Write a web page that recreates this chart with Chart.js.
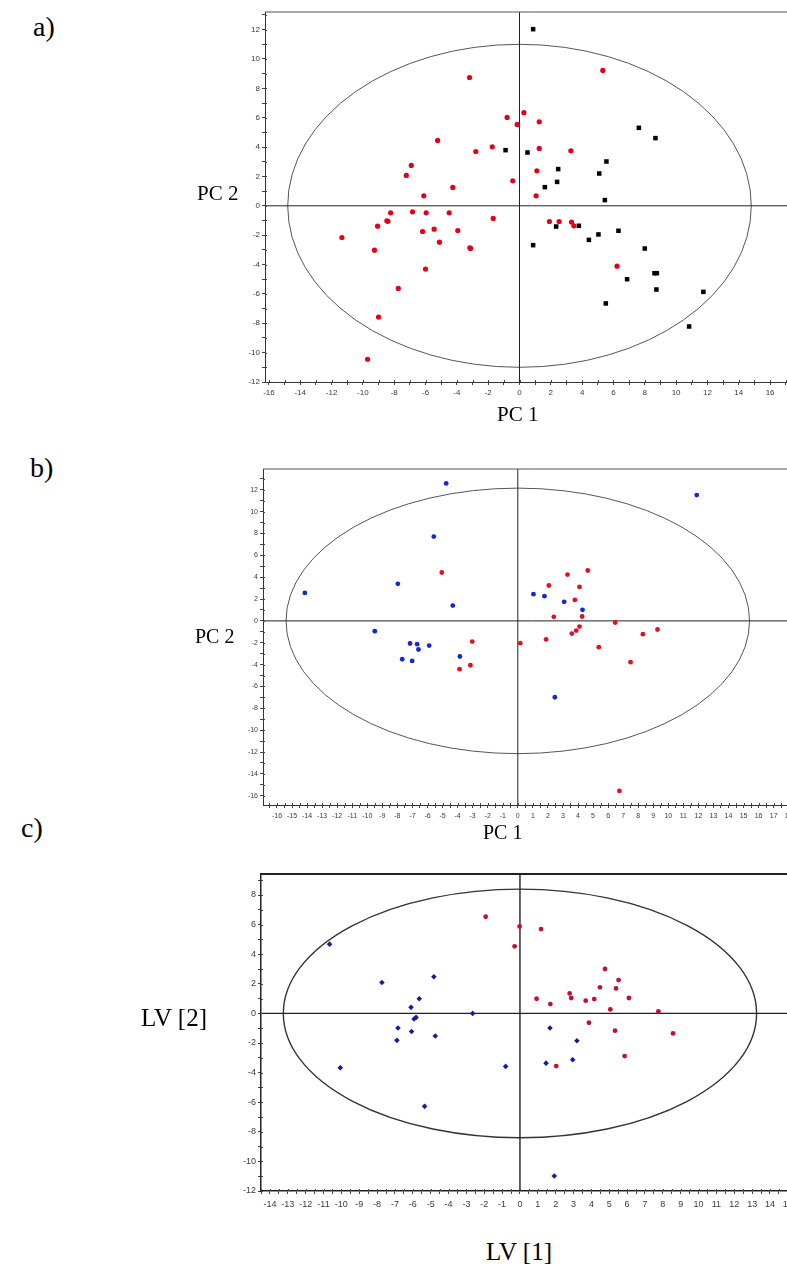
<!DOCTYPE html>
<html>
<head>
<meta charset="utf-8">
<script src="https://cdn.jsdelivr.net/npm/chart.js@4"></script>
<style>
  html, body { margin: 0; padding: 0; width: 787px; height: 1265px; overflow: hidden; background: #fff; }
  canvas { position: absolute; }
  .lbl { position: absolute; font-family: "Liberation Serif", "Times New Roman", serif; line-height: 1; white-space: nowrap; color: #000; }
</style>
</head>
<body>
<canvas id="pa"></canvas>
<canvas id="pb"></canvas>
<canvas id="pc"></canvas>

<div class="lbl" style="left:33px;top:13px;font-size:28px">a)</div>
<div class="lbl" style="left:197px;top:183px;font-size:21px">PC 2</div>
<div class="lbl" style="left:497px;top:404px;font-size:21px">PC 1</div>

<div class="lbl" style="left:30px;top:454px;font-size:28px">b)</div>
<div class="lbl" style="left:195px;top:626px;font-size:20px">PC 2</div>
<div class="lbl" style="left:483px;top:822px;font-size:20px">PC 1</div>

<div class="lbl" style="left:21px;top:814px;font-size:28px">c)</div>
<div class="lbl" style="left:141px;top:1005px;font-size:25px">LV [2]</div>
<div class="lbl" style="left:486px;top:1239px;font-size:25px">LV [1]</div>

<script>
// ---- a) PCA scores, PC1 vs PC2 ----
const aRedX = [5.32, -3.19, 0.28, -0.79, -0.15, 1.26, -5.23, -1.74, -2.79, 1.26, 3.28, -6.91, -7.23, 1.11,
  -0.43, -4.26, -6.11, 1.06, -8.23, -6.83, -5.96, -4.49, -1.68, -9.06, -8.47, -8.40, -11.34, -6.19, -5.45,
  -3.94, -5.11, -9.26, -3.17, -3.12, -6.00, -7.74, -9.00, -9.70, 1.91, 2.53, 3.32, 3.47, 6.23];
const aRedY = [9.22, 8.74, 6.34, 6.02, 5.54, 5.72, 4.45, 4.02, 3.70, 3.91, 3.75, 2.75, 2.07, 2.38,
  1.70, 1.25, 0.68, 0.68, -0.48, -0.41, -0.48, -0.48, -0.86, -1.39, -1.02, -1.06, -2.16, -1.75, -1.59,
  -1.68, -2.48, -3.02, -2.86, -2.90, -4.31, -5.63, -7.58, -10.45, -1.07, -1.07, -1.11, -1.36, -4.11];
const aBlackX = [0.87, 7.62, 8.68, -0.89, 0.51, 2.47, 5.55, 5.09, 2.40, 1.62, 5.45, 3.79, 2.34, 4.43,
  5.04, 6.32, 0.87, 8.00, 8.62, 8.77, 6.87, 8.74, 11.74, 5.51, 10.83];
const aBlackY = [12.03, 5.31, 4.61, 3.79, 3.63, 2.50, 3.02, 2.20, 1.63, 1.27, 0.39, -1.36, -1.41, -2.32,
  -1.95, -1.70, -2.68, -2.91, -4.59, -4.59, -5.00, -5.70, -5.86, -6.65, -8.22];
const aEllipse = [14.8, 11.0];   // semi-axes of the confidence ellipse (PC1, PC2)

// ---- b) PCA scores, PC1 vs PC2 ----
const bBlueX = [-4.76, 11.89, -5.58, -14.15, -7.97, -4.32, 1.04, 1.77, 3.08, 4.30, -9.50, -7.16, -6.69,
  -6.60, -5.89, -7.68, -7.02, -3.85, 2.46];
const bBlueY = [12.58, 11.51, 7.72, 2.56, 3.39, 1.40, 2.44, 2.26, 1.74, 1.01, -0.95, -2.07, -2.13,
  -2.62, -2.26, -3.51, -3.66, -3.26, -6.99];
const bRedX = [-5.05, 2.06, 3.30, 4.65, 4.10, 3.79, 2.39, 4.27, 4.10, 3.88, 3.59, 6.47, 8.31, 9.28,
  -3.03, -3.87, -3.15, 0.16, 1.88, 5.38, 7.49, 6.75];
const bRedY = [4.43, 3.24, 4.24, 4.61, 3.11, 1.92, 0.37, 0.40, -0.52, -0.89, -1.16, -0.15, -1.22, -0.79,
  -1.89, -4.42, -4.06, -2.04, -1.70, -2.41, -3.78, -15.56];
const bEllipse = [15.4, 12.15];

// ---- c) PLS-DA scores, LV1 vs LV2 ----
const cRedX = [-1.92, -0.02, 1.18, -0.30, 4.76, 5.52, 4.48, 5.38, 2.78, 2.87, 6.10, 0.93, 4.16, 3.68,
  1.70, 5.06, 7.75, 3.86, 5.32, 8.57, 5.86, 2.03];
const cRedY = [6.53, 5.88, 5.70, 4.53, 3.00, 2.25, 1.76, 1.69, 1.35, 1.04, 1.04, 0.99, 0.97, 0.86,
  0.63, 0.27, 0.14, -0.63, -1.17, -1.35, -2.88, -3.56];
const cBlueX = [-10.66, -7.73, -4.82, -5.64, -6.10, -5.82, -5.93, -2.65, -6.83, -6.07, -4.74, -6.89,
  1.68, 3.19, -10.06, -0.80, -5.34, 1.46, 2.95, 1.92];
const cBlueY = [4.68, 2.09, 2.48, 0.99, 0.41, -0.27, -0.38, 0.00, -0.99, -1.22, -1.53, -1.82,
  -0.99, -1.85, -3.67, -3.58, -6.28, -3.36, -3.13, -10.99];
const cEllipse = [13.25, 8.4];

const zip = (xs, ys) => xs.map((x, i) => ({ x, y: ys[i] }));

// Confidence ellipse, zero lines, top frame line and the inner half of each tick mark
const scoreFrame = {
  id: 'scoreFrame',
  beforeDatasetsDraw(chart, args, opts) {
    const { ctx, chartArea: ca, scales: { x, y } } = chart;
    const cx = x.getPixelForValue(0), cy = y.getPixelForValue(0);
    const rx = x.getPixelForValue(opts.ellipse[0]) - cx;
    const ry = cy - y.getPixelForValue(opts.ellipse[1]);
    ctx.save();
    ctx.beginPath();
    ctx.ellipse(cx, cy, rx, ry, 0, 0, Math.PI * 2);
    ctx.strokeStyle = opts.ellipseColor;
    ctx.lineWidth = opts.ellipseWidth;
    ctx.stroke();

    ctx.beginPath();
    ctx.moveTo(cx, ca.top); ctx.lineTo(cx, ca.bottom);
    ctx.moveTo(ca.left, cy); ctx.lineTo(ca.right, cy);
    ctx.strokeStyle = opts.crossColor;
    ctx.lineWidth = opts.crossWidth;
    ctx.stroke();

    ctx.beginPath();
    ctx.moveTo(ca.left, ca.top); ctx.lineTo(ca.right, ca.top);
    ctx.strokeStyle = opts.frameColor;
    ctx.lineWidth = opts.frameWidth;
    ctx.stroke();

    ctx.beginPath();
    x.ticks.forEach(t => {
      const px = Math.round(x.getPixelForValue(t.value)) + 0.5;
      ctx.moveTo(px, ca.bottom); ctx.lineTo(px, ca.bottom - 2);
    });
    y.ticks.forEach(t => {
      const py = Math.round(y.getPixelForValue(t.value)) + 0.5;
      ctx.moveTo(ca.left, py); ctx.lineTo(ca.left + 2, py);
    });
    ctx.strokeStyle = '#444';
    ctx.lineWidth = 1;
    ctx.stroke();
    ctx.restore();
  }
};

function everyLabel(n) {
  return (v) => {
    const r = v / n;
    return Math.abs(r - Math.round(r)) < 1e-6 ? String(Math.round(v)) : '';
  };
}

function axis(o, isX) {
  return {
    type: 'linear',
    position: isX ? 'bottom' : 'left',
    min: o.min, max: o.max,
    border: { display: true, color: o.lineColor, width: o.lineWidth },
    grid: { display: true, drawOnChartArea: false, drawTicks: true, tickLength: 3, tickColor: '#444', lineWidth: 1 },
    ticks: {
      stepSize: o.step, maxTicksLimit: 200, autoSkip: false, maxRotation: 0, includeBounds: false,
      padding: o.pad, color: '#3a3a3a',
      font: { family: '"Liberation Sans", Arial, sans-serif', size: o.font },
      callback: everyLabel(o.every)
    },
    afterFit(s) {
      if (isX) { s.height = o.size; s.paddingLeft = 0; s.paddingRight = 0; }
      else { s.width = o.size; s.paddingTop = 0; s.paddingBottom = 0; }
    }
  };
}

function panel(id, g, datasets, frame) {
  const cv = document.getElementById(id);
  cv.width = g.w; cv.height = g.h;
  cv.style.left = g.left + 'px'; cv.style.top = g.top + 'px';
  cv.style.width = g.w + 'px'; cv.style.height = g.h + 'px';
  new Chart(cv, {
    type: 'scatter',
    data: { datasets },
    options: {
      responsive: false, animation: false, events: [],
      layout: { autoPadding: false, padding: { top: g.padTop, left: 0, right: 0, bottom: 0 } },
      plugins: { legend: { display: false }, tooltip: { enabled: false }, scoreFrame: frame },
      scales: { x: axis(g.x, true), y: axis(g.y, false) }
    },
    plugins: [scoreFrame]
  });
}

function pts(data, color, style, r) {
  return { data, pointStyle: style, pointRadius: r, backgroundColor: color, borderColor: color, borderWidth: 0, clip: false };
}

panel('pa',
  { left: 200, top: 0, w: 600, h: 412, padTop: 12,
    x: { min: -16.25, max: 17.91, step: 1, every: 2, pad: 3, font: 8, size: 30, lineColor: '#333', lineWidth: 1 },
    y: { min: -12, max: 13.2, step: 1, every: 2, pad: 2, font: 8, size: 65, lineColor: '#333', lineWidth: 1 } },
  [pts(zip(aRedX, aRedY), '#e3001b', 'circle', 2.6),
   pts(zip(aBlackX, aBlackY), '#000000', 'rect', 3.2)],
  { ellipse: aEllipse, ellipseColor: '#555', ellipseWidth: 1, crossColor: '#222', crossWidth: 1, frameColor: '#555', frameWidth: 1 });

panel('pb',
  { left: 200, top: 460, w: 600, h: 375, padTop: 9,
    x: { min: -16.93, max: 18.75, step: 0.5, every: 1, pad: 4, font: 7, size: 30, lineColor: '#333', lineWidth: 1 },
    y: { min: -16.85, max: 13.9, step: 1, every: 2, pad: 2, font: 7, size: 63, lineColor: '#333', lineWidth: 1 } },
  [pts(zip(bBlueX, bBlueY), '#1428d2', 'circle', 2.4),
   pts(zip(bRedX, bRedY), '#e01020', 'circle', 2.4)],
  { ellipse: bEllipse, ellipseColor: '#555', ellipseWidth: 1, crossColor: '#222', crossWidth: 1, frameColor: '#555', frameWidth: 1 });

panel('pc',
  { left: 200, top: 865, w: 600, h: 356, padTop: 9,
    x: { min: -14.5, max: 15.68, step: 0.5, every: 1, pad: 5, font: 9, size: 30, lineColor: '#222', lineWidth: 1.5 },
    y: { min: -12, max: 9.42, step: 1, every: 2, pad: 2, font: 9, size: 61, lineColor: '#222', lineWidth: 1.5 } },
  [pts(zip(cRedX, cRedY), '#c41030', 'circle', 2.4),
   pts(zip(cBlueX, cBlueY), '#141e9a', 'rectRot', 2.8)],
  { ellipse: cEllipse, ellipseColor: '#333', ellipseWidth: 1.4, crossColor: '#222', crossWidth: 1.4, frameColor: '#222', frameWidth: 2 });
</script>
</body>
</html>
